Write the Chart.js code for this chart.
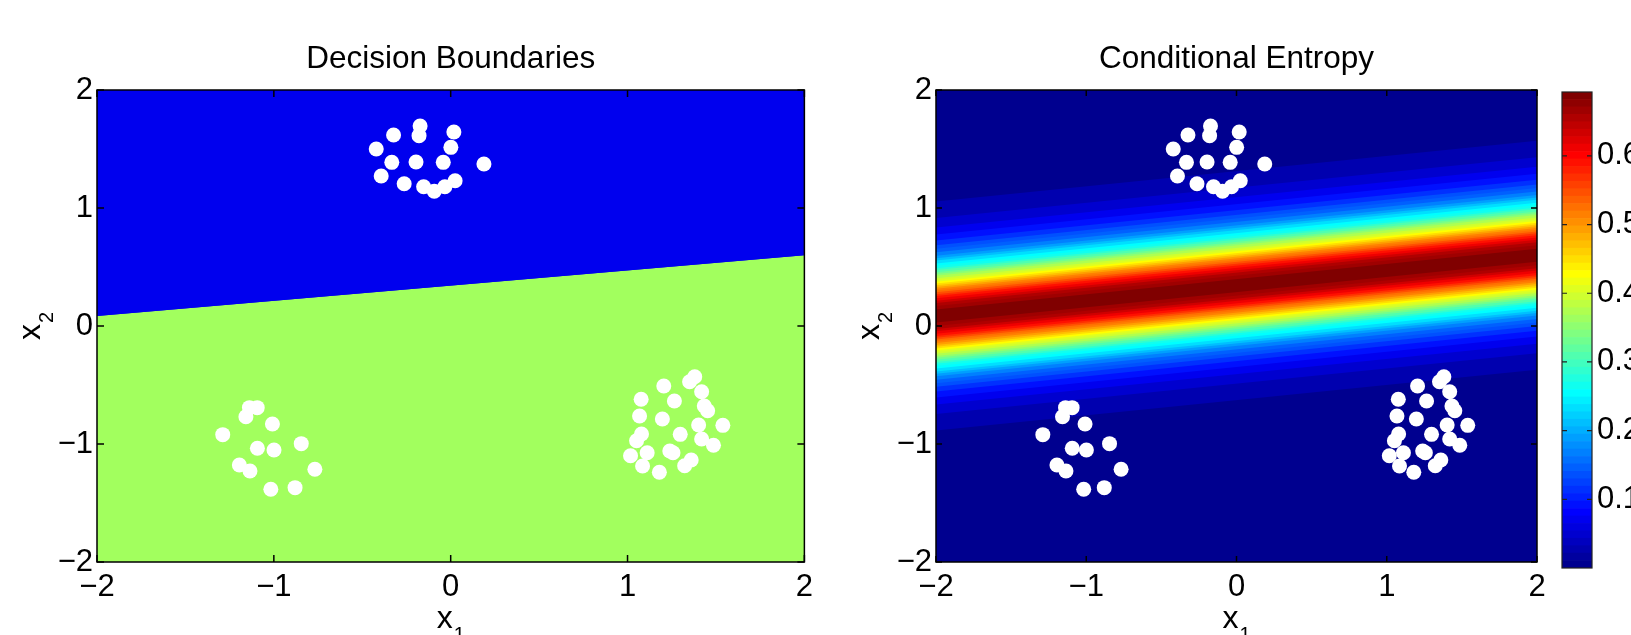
<!DOCTYPE html>
<html>
<head>
<meta charset="utf-8">
<title>Decision Boundaries / Conditional Entropy</title>
<script src="https://cdn.jsdelivr.net/npm/chart.js@4.4.0/dist/chart.umd.min.js"></script>
<style>
  html, body { margin: 0; padding: 0; background: #fff; }
  body { width: 1631px; height: 635px; position: relative; overflow: hidden; }
  canvas { position: absolute; top: 0; }
  #boundaries { left: 0; }
  #entropy { left: 820px; }
  #colorbar { left: 1540px; }
</style>
</head>
<body>
<canvas id="boundaries" width="820" height="635"></canvas>
<canvas id="entropy" width="740" height="635"></canvas>
<canvas id="colorbar" width="91" height="635"></canvas>
<script>
// training points, three clusters
const topX = [-0.173, -0.179, -0.323, 0.018, -0.421, 0.001, -0.333, -0.196, -0.042, 0.188, -0.393, -0.263, -0.153, -0.093, -0.033, 0.025];
const topY = [1.695, 1.613, 1.619, 1.644, 1.500, 1.514, 1.387, 1.390, 1.387, 1.373, 1.271, 1.206, 1.180, 1.142, 1.180, 1.231];
const leftX = [-1.138, -1.094, -1.158, -1.008, -1.289, -1.093, -0.999, -0.845, -1.195, -1.135, -0.768, -1.017, -0.880];
const leftY = [-0.692, -0.692, -0.769, -0.831, -0.921, -1.036, -1.051, -0.997, -1.178, -1.229, -1.214, -1.384, -1.370];
const rightX = [1.380, 1.351, 1.205, 1.419, 1.265, 1.077, 1.434, 1.453, 1.068, 1.197, 1.402, 1.539, 1.079, 1.051, 1.298, 1.419, 1.486, 1.111, 1.239, 1.257, 1.017, 1.360, 1.323, 1.085, 1.180];
const rightY = [-0.430, -0.472, -0.508, -0.557, -0.636, -0.621, -0.678, -0.718, -0.763, -0.788, -0.839, -0.842, -0.915, -0.972, -0.918, -0.958, -1.011, -1.074, -1.059, -1.074, -1.099, -1.136, -1.184, -1.186, -1.240];

// linear decision boundary (x1 -> x2)
const boundaryX = [-2, 2];
const boundaryY = [0.085, 0.6];

// conditional entropy: vertical half-width of the band where H >= level
const entropyLevels = [0.02, 0.04, 0.06, 0.08, 0.10, 0.12, 0.14, 0.16, 0.18, 0.20, 0.22, 0.24, 0.26, 0.28, 0.30, 0.32, 0.34,
                       0.36, 0.38, 0.40, 0.42, 0.44, 0.46, 0.48, 0.50, 0.52, 0.54, 0.56, 0.58, 0.60, 0.62, 0.64, 0.66, 0.68];
const levelHalfWidth = [0.97, 0.83, 0.75, 0.69, 0.64, 0.60, 0.57, 0.54, 0.51, 0.49, 0.47, 0.445, 0.425, 0.405, 0.39, 0.37, 0.355,
                        0.34, 0.32, 0.305, 0.29, 0.275, 0.26, 0.245, 0.23, 0.215, 0.20, 0.185, 0.17, 0.15, 0.13, 0.11, 0.085, 0.055];
const entropyMax = 0.693;

const axisTicks = [-2, -1, 0, 1, 2];
const colorbarTicks = [0.1, 0.2, 0.3, 0.4, 0.5, 0.6];

const FONT = '"Liberation Sans", Arial, Helvetica, sans-serif';
const blueRegion = 'rgb(0,0,238)';
const greenRegion = 'rgb(162,255,94)';

// matlab jet(64), k = 1..64
function jet(k) {
  const r = k < 25 ? 0 : k <= 40 ? (k - 24) / 16 : k <= 55 ? 1 : (72 - k) / 16;
  const g = k < 9 ? 0 : k <= 24 ? (k - 8) / 16 : k <= 39 ? 1 : k <= 55 ? (56 - k) / 16 : 0;
  const b = k <= 8 ? (k + 8) / 16 : k <= 23 ? 1 : k <= 39 ? (40 - k) / 16 : 0;
  return 'rgb(' + Math.round(r * 255) + ',' + Math.round(g * 255) + ',' + Math.round(b * 255) + ')';
}
function jetIndex(v) {
  return Math.max(1, Math.min(64, Math.floor(v / entropyMax * 64) + 1));
}

const minus = v => v < 0 ? '\u2212' + Math.abs(v) : String(v);
const toXY = (xs, ys) => xs.map((x, i) => ({ x: x, y: ys[i] }));
const shifted = d => boundaryX.map((x, i) => ({ x: x, y: boundaryY[i] + d }));

const allPoints = toXY(topX.concat(leftX, rightX), topY.concat(leftY, rightY));

// box, inward ticks
const framePlugin = {
  id: 'frame',
  afterDatasetsDraw(chart, args, o) {
    const { ctx, chartArea: a, scales } = chart;
    ctx.save();
    ctx.strokeStyle = o.color;
    ctx.lineWidth = o.lineWidth;
    ctx.beginPath();
    (o.xTicks || []).forEach(v => {
      const px = scales.x.getPixelForValue(v);
      ctx.moveTo(px, a.bottom); ctx.lineTo(px, a.bottom - o.tickLength);
      ctx.moveTo(px, a.top); ctx.lineTo(px, a.top + o.tickLength);
    });
    (o.yTicks || []).forEach(v => {
      const py = scales.y.getPixelForValue(v);
      ctx.moveTo(a.left, py); ctx.lineTo(a.left + o.tickLength, py);
      ctx.moveTo(a.right, py); ctx.lineTo(a.right - o.tickLength, py);
    });
    ctx.stroke();
    ctx.strokeRect(a.left, a.top, a.width, a.height);
    ctx.restore();
  }
};

// background colour of the plot area
const areaFillPlugin = {
  id: 'areaFill',
  beforeDatasetsDraw(chart, args, o) {
    if (!o.color) return;
    const { ctx, chartArea: a } = chart;
    ctx.save();
    ctx.fillStyle = o.color;
    ctx.fillRect(a.left, a.top, a.width, a.height);
    ctx.restore();
  }
};

// x_1 / x_2 labels with subscripts
const axisLabelPlugin = {
  id: 'axisLabels',
  afterDraw(chart, args, o) {
    const { ctx, chartArea: a } = chart;
    const write = (main, sub) => {
      ctx.font = o.size + 'px ' + FONT;
      const w1 = ctx.measureText(main).width;
      ctx.font = o.subSize + 'px ' + FONT;
      const w2 = ctx.measureText(sub).width;
      const x0 = -(w1 + w2 + 1) / 2;
      ctx.font = o.size + 'px ' + FONT;
      ctx.fillText(main, x0, 0);
      ctx.font = o.subSize + 'px ' + FONT;
      ctx.fillText(sub, x0 + w1 + 1, o.subDrop);
    };
    ctx.save();
    ctx.fillStyle = '#000';
    ctx.textBaseline = 'alphabetic';
    ctx.textAlign = 'left';
    ctx.save();
    ctx.translate((a.left + a.right) / 2, a.bottom + o.xGap);
    write('x', '1');
    ctx.restore();
    ctx.save();
    ctx.translate(a.left - o.yGap, (a.top + a.bottom) / 2);
    ctx.rotate(-Math.PI / 2);
    write('x', '2');
    ctx.restore();
    ctx.restore();
  }
};

function panelScales(yWidth) {
  const tickFont = { family: FONT, size: 31 };
  return {
    x: {
      type: 'linear', min: -2, max: 2,
      grid: { display: false, drawTicks: false }, border: { display: false },
      ticks: { stepSize: 1, padding: 7, color: '#000', font: tickFont, callback: minus, maxRotation: 0 },
      afterFit: s => { s.height = 73; }
    },
    y: {
      type: 'linear', min: -2, max: 2,
      grid: { display: false, drawTicks: false }, border: { display: false },
      ticks: { stepSize: 1, padding: 4, color: '#000', font: tickFont, callback: minus },
      afterFit: s => { s.width = yWidth; }
    }
  };
}

function panelPlugins(title, areaColor, tickLength) {
  return {
    legend: { display: false },
    tooltip: { enabled: false },
    title: {
      display: true, text: title, fullSize: false, color: '#000',
      font: { family: FONT, size: 31.5, weight: 'normal', lineHeight: 1.2 },
      padding: { top: 40, bottom: 12.2 }
    },
    areaFill: { color: areaColor },
    frame: { color: '#000', lineWidth: 1.5, tickLength: tickLength, xTicks: axisTicks, yTicks: axisTicks },
    axisLabels: { size: 32, subSize: 20, subDrop: 13, xGap: 66, yGap: 57 }
  };
}

const pointsDataset = {
  type: 'scatter',
  data: allPoints,
  showLine: false,
  pointRadius: 7.5,
  pointBackgroundColor: '#fff',
  pointBorderWidth: 0,
  pointBorderColor: '#fff',
  order: -1
};

// left panel: two class regions split by the boundary
new Chart(document.getElementById('boundaries'), {
  type: 'line',
  data: {
    datasets: [
      Object.assign({}, pointsDataset),
      { data: toXY(boundaryX, boundaryY), fill: 'end', backgroundColor: blueRegion,
        borderColor: 'rgba(0,0,0,0)', borderWidth: 0, pointRadius: 0 },
      { data: toXY(boundaryX, boundaryY), fill: 'start', backgroundColor: greenRegion,
        borderColor: 'rgba(0,0,0,0)', borderWidth: 0, pointRadius: 0 }
    ]
  },
  options: {
    responsive: false, animation: false, events: [],
    layout: { padding: { left: 0, right: 12, top: 0, bottom: 0 } },
    scales: panelScales(97),
    plugins: panelPlugins('Decision Boundaries', blueRegion, 7)
  },
  plugins: [areaFillPlugin, framePlugin, axisLabelPlugin]
});

// right panel: entropy band, narrowest (highest) level drawn last
const bandDatasets = [];
for (let i = entropyLevels.length - 1; i >= 0; i--) {
  const next = i + 1 < entropyLevels.length ? entropyLevels[i + 1] : entropyMax;
  const colour = jet(jetIndex((entropyLevels[i] + next) / 2));
  bandDatasets.push(
    { data: shifted(levelHalfWidth[i]), fill: '+1', backgroundColor: colour,
      borderColor: 'rgba(0,0,0,0)', borderWidth: 0, pointRadius: 0 },
    { data: shifted(-levelHalfWidth[i]), fill: false,
      borderColor: 'rgba(0,0,0,0)', borderWidth: 0, pointRadius: 0 }
  );
}

new Chart(document.getElementById('entropy'), {
  type: 'line',
  data: { datasets: [Object.assign({}, pointsDataset)].concat(bandDatasets) },
  options: {
    responsive: false, animation: false, events: [],
    layout: { padding: { left: 0, right: 23, top: 0, bottom: 0 } },
    scales: panelScales(116),
    plugins: panelPlugins('Conditional Entropy', jet(1), 6)
  },
  plugins: [areaFillPlugin, framePlugin, axisLabelPlugin]
});

// colour bar: 64 stacked jet cells from 0 to entropyMax
const cellDatasets = [];
for (let k = 1; k <= 64; k++) {
  cellDatasets.push({ data: [entropyMax / 64], backgroundColor: jet(k), borderWidth: 0,
                      barPercentage: 1, categoryPercentage: 1 });
}

new Chart(document.getElementById('colorbar'), {
  type: 'bar',
  data: { labels: [''], datasets: cellDatasets },
  options: {
    responsive: false, animation: false, events: [],
    layout: { padding: { left: 22, right: 0, top: 92, bottom: 67 } },
    scales: {
      x: { display: false, stacked: true },
      y: {
        position: 'right', stacked: true, min: 0, max: entropyMax,
        grid: { display: false, drawTicks: false }, border: { display: false },
        ticks: { padding: 5, color: '#000', font: { family: FONT, size: 31 }, callback: v => v.toFixed(1) },
        afterBuildTicks: s => { s.ticks = colorbarTicks.map(v => ({ value: v })); },
        afterFit: s => { s.width = 39; }
      }
    },
    plugins: {
      legend: { display: false },
      tooltip: { enabled: false },
      frame: { color: '#222', lineWidth: 1.2, tickLength: 5, yTicks: colorbarTicks }
    }
  },
  plugins: [framePlugin]
});
</script>
</body>
</html>
